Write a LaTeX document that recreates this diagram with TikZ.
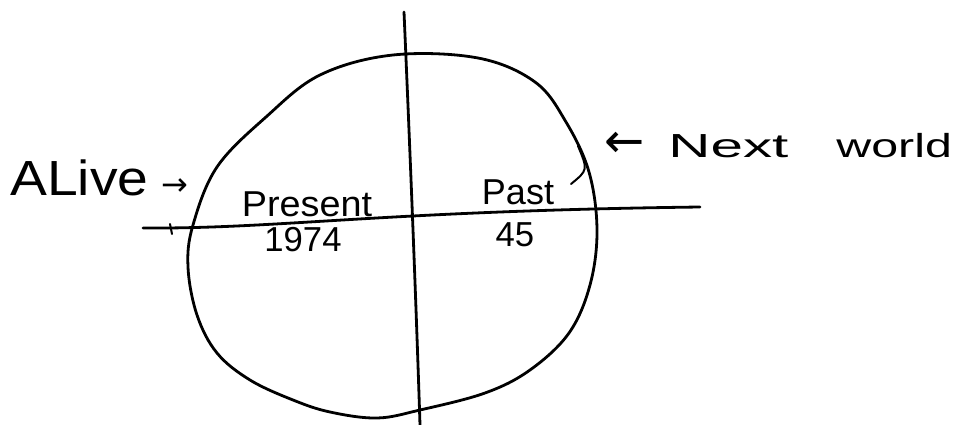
\documentclass[tikz,border=0pt]{standalone}
\usepackage{fontspec}
\usepackage{graphicx}
\setmainfont{Liberation Sans}
\newfontfamily\arrowfont{DejaVu Sans}
\tikzset{
  pen/.style={line width=2.1pt, line cap=round, line join=round, black},
  lbl/.style={inner sep=0pt, text=black},
}
\begin{document}
\begin{tikzpicture}[x=0.75pt, y=-0.75pt]
\useasboundingbox[fill=white] (0,0) rectangle (961,425);
% blob (the world)
\draw[pen] plot[smooth cycle, tension=0.6] coordinates {
 (393,55) (478,58) (535,82) (566,122) (589,172) (597,230) (590,285)
 (569,333) (530,370) (485,393) (420,410) (377,418) (330,412) (293,400)
 (250,380) (217,353) (197,315) (188,267) (193,225) (217,167) (266,117) (320,75)};
% axes
\coordinate (vT) at (404,12);
\coordinate (vB) at (420,425);
\coordinate (hL) at (143,228);
\coordinate (hR) at (700,207);
\draw[pen] (vT) .. controls (410,150) and (416,300) .. (vB);
\draw[pen] (hL) .. controls (280,229) and (380,211) .. (hR);
% small tick at left end
\coordinate (tA) at (170,224);
\coordinate (tB) at (172,234);
\draw[pen, line width=1.5pt] (tA) -- (tB);
% hook near Past
\coordinate (kA) at (578,146);
\coordinate (kB) at (571,184);
\draw[pen, line width=1.5pt] (kA) .. controls (588,170) .. (kB);
% labels
\node[lbl, anchor=west] (alive) at (10,178) {\scalebox{1.12}[1]{\fontsize{37}{40}\selectfont ALive}\hspace{10pt}{\arrowfont\fontsize{24}{26}\selectfont →}};
\node[lbl] (present) at (307,204) {\scalebox{1.05}[1]{\fontsize{27}{30}\selectfont Present}};
\node[lbl] (y1974) at (303,240) {\fontsize{26}{28}\selectfont 1974};
\node[lbl] (past) at (518,192) {\fontsize{27}{30}\selectfont Past};
\node[lbl] (n45) at (515,235) {\fontsize{26}{28}\selectfont 45};
\node[lbl, anchor=west] (next) at (604,145) {\fontsize{25}{28}\selectfont{\arrowfont\fontsize{36}{38}\selectfont ←}\hspace{18pt}\scalebox{1.75}[1]{Next}\hspace{36pt}\scalebox{1.45}[1]{world}};
\end{tikzpicture}
\end{document}
